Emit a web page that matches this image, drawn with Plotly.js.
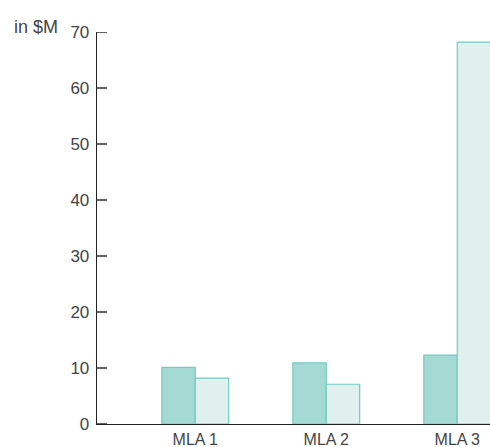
<!DOCTYPE html>
<html>
<head>
<meta charset="utf-8">
<script src="https://cdn.plot.ly/plotly-3.0.1.min.js"></script>
<style>html,body{margin:0;padding:0;background:#fff;}#chart{width:490px;height:447px;}</style>
</head>
<body>
<div id="chart"></div>
<script>
const categories = ["MLA 1", "MLA 2", "MLA 3"];
const seriesA = [10.1, 10.9, 12.3];
const seriesB = [8.2, 7.1, 68.2];
const yTicks = [0, 10, 20, 30, 40, 50, 60, 70];
const unitLabel = "in $M";

const fontFam = "Liberation Sans, Arial, sans-serif";
const traces = [
  {type: "bar", x: categories, y: seriesA, name: "A",
   marker: {color: "#a4dad3", line: {color: "#72cbbe", width: 1.2}}},
  {type: "bar", x: categories, y: seriesB, name: "B",
   marker: {color: "#dff0ee", line: {color: "#72cbbe", width: 1.2}}}
];
// inward y tick marks (drawn as shapes so label spacing can be controlled)
const tickShapes = yTicks.map(v => ({
  type: "line", xref: "paper", yref: "y",
  x0: 0, x1: 10 / 393, y0: v, y1: v,
  line: {color: "#222", width: 1.4}, layer: "above"
}));
const layout = {
  width: 490, height: 447,
  margin: {l: 97, r: 0, t: 32, b: 23},
  paper_bgcolor: "#fff", plot_bgcolor: "#fff",
  showlegend: false,
  barmode: "group", bargap: 0.49, bargroupgap: 0,
  font: {family: fontFam, color: "#444", size: 16},
  xaxis: {
    type: "category", range: [-0.75, 2.25],
    showline: true, linecolor: "#222", linewidth: 1.3,
    ticks: "", showgrid: false, zeroline: false,
    tickfont: {size: 16, color: "#444", family: fontFam}
  },
  yaxis: {
    range: [0, 70], tickmode: "array", tickvals: yTicks, ticktext: yTicks.map(String),
    showline: true, linecolor: "#222", linewidth: 1.3,
    ticks: "", showgrid: false, zeroline: false,
    tickfont: {size: 17, color: "#444", family: fontFam},
    ticklabelstandoff: 3
  },
  shapes: tickShapes,
  annotations: [{
    text: unitLabel, xref: "paper", yref: "paper",
    x: (12 - 97) / 393, y: 1.0, xanchor: "left", yanchor: "bottom",
    yshift: -7, showarrow: false,
    font: {size: 18, color: "#444", family: fontFam}
  }]
};
Plotly.newPlot("chart", traces, layout, {displayModeBar: false, staticPlot: true});
</script>
</body>
</html>
